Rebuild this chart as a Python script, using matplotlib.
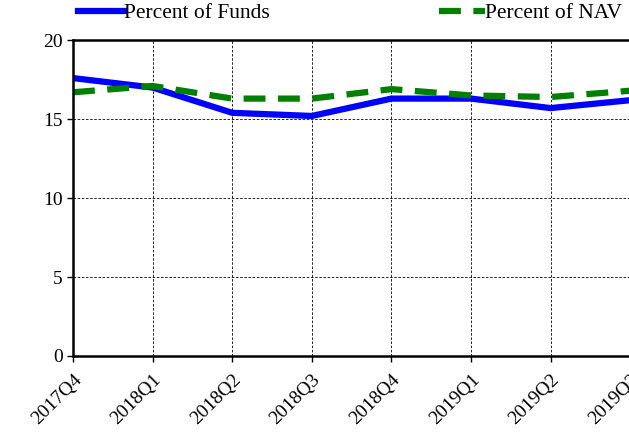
import matplotlib
matplotlib.use("Agg")
import matplotlib.pyplot as plt

quarters = ["2017Q4", "2018Q1", "2018Q2", "2018Q3", "2018Q4", "2019Q1", "2019Q2", "2019Q3"]
pct_funds = [17.6, 17.0, 15.4, 15.2, 16.3, 16.3, 15.7, 16.2]
pct_nav = [16.7, 17.1, 16.3, 16.3, 16.9, 16.5, 16.4, 16.8]

plt.rcParams['font.family'] = ['Liberation Serif', 'DejaVu Serif']

fig = plt.figure(figsize=(6.29, 4.32), dpi=100)
ax = fig.add_axes([0.116, 0.176, 0.886, 0.731])

x = range(len(quarters))
ax.plot(x, pct_funds, color='blue', lw=4.5, label='Percent of Funds')
ax.plot(x, pct_nav, color='green', lw=4.5, ls=(0, (3.5, 2)), label='Percent of NAV')

ax.set_xlim(0, len(quarters) - 1)
ax.set_ylim(0, 20)
ax.set_yticks([0, 5, 10, 15, 20])
ax.set_xticks(list(x))
ax.set_xticklabels(quarters, rotation=45, ha='right', rotation_mode='anchor')
ax.tick_params(labelsize=14, width=1, length=4)
ax.tick_params(axis='x', pad=7)

ax.grid(True, color='black', ls=(0, (3, 2)), lw=0.6)
for s in ['left', 'bottom', 'top']:
    ax.spines[s].set_linewidth(1.8)
ax.spines['right'].set_visible(False)

ax.legend(loc='lower center', bbox_to_anchor=(0.497, 1.02), ncol=2, frameon=False,
          fontsize=15.5, handlelength=2.1, handletextpad=0, columnspacing=7.9,
          borderaxespad=0.1)

fig.savefig("out.png", dpi=100)
